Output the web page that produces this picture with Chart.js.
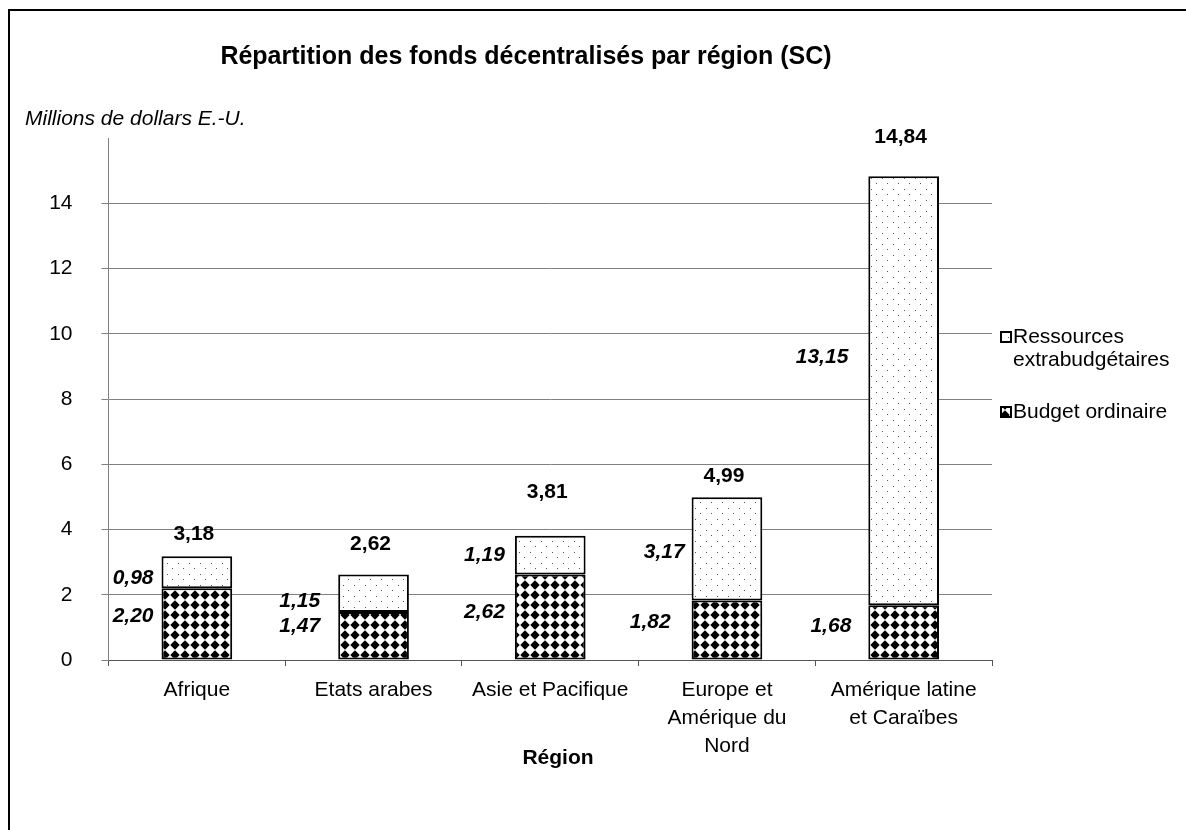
<!DOCTYPE html>
<html>
<head>
<meta charset="utf-8">
<script src="https://cdn.jsdelivr.net/npm/chart.js@4"></script>
<style>
  body { margin: 0; background: #fff; overflow: hidden; }
  #wrap { width: 1186px; height: 830px; }
</style>
</head>
<body>
<div id="wrap"><canvas id="fondsBar" width="1186" height="830"></canvas></div>
<script>
const regions = ['Afrique', 'Etats arabes', 'Asie et Pacifique', ['Europe et', 'Amérique du', 'Nord'], ['Amérique latine', 'et Caraïbes']]
const budgetOrdinaire = [2.20, 1.47, 2.62, 1.82, 1.68]
const extrabudgetaires = [0.98, 1.15, 1.19, 3.17, 13.15]
const totals = [3.18, 2.62, 3.81, 4.99, 14.84]
const yTicks = [0, 2, 4, 6, 8, 10, 12, 14]

const FONT = "'Liberation Sans', Arial, sans-serif"

// motifs de remplissage (diamants noirs / points gris)
function diamondPattern() {
    const c = document.createElement('canvas')
    c.width = 10; c.height = 10
    const g = c.getContext('2d')
    g.fillStyle = '#fff'
    g.fillRect(0, 0, 10, 10)
    g.fillStyle = '#000'
    g.beginPath()
    g.moveTo(5, 0.3); g.lineTo(9.7, 5); g.lineTo(5, 9.7); g.lineTo(0.3, 5)
    g.closePath()
    g.fill()
    return g.createPattern(c, 'repeat')
}
function dotPattern() {
    const c = document.createElement('canvas')
    c.width = 11; c.height = 11
    const g = c.getContext('2d')
    g.fillStyle = '#fff'
    g.fillRect(0, 0, 11, 11)
    g.fillStyle = '#555'
    g.fillRect(2, 2, 1, 1)
    g.fillRect(7, 7, 1, 1)
    return g.createPattern(c, 'repeat')
}
const fmt = v => v.toFixed(2).replace('.', ',')

// les étiquettes du graphique d'origine ont été déplacées à la main
const labelNudge = {
    totalAbove: [22, 30, 43, 21, 39],
    extraDy: [6, 8, 0, 3, -33],
    budgetDy: [-8, -10, -5, -8, -6],
    extraGap: [8, 18, 10, 7, 20],
    budgetGap: [8, 18, 10, 21, 17]
}

const decorPlugin = {
    id: 'decor',
    beforeDraw(chart) {
        const g = chart.ctx
        g.save()
        g.fillStyle = '#fff'
        g.fillRect(0, 0, chart.width, chart.height)
        g.strokeStyle = '#000'
        g.lineWidth = 2
        g.strokeRect(9, 10, 1300, 1000)
        g.restore()
    },
    afterDraw(chart) {
        const g = chart.ctx
        g.save()
        g.fillStyle = '#000'
        g.textBaseline = 'middle'
        // titre
        g.font = 'bold 25px ' + FONT
        g.textAlign = 'center'
        g.fillText('Répartition des fonds décentralisés par région (SC)', 526, 57)
        // unité
        g.font = 'italic 21px ' + FONT
        g.textAlign = 'left'
        g.fillText('Millions de dollars E.-U.', 25, 119)
        // titre axe x
        g.font = 'bold 21px ' + FONT
        g.textAlign = 'center'
        g.fillText('Région', 558, 758)

        // étiquettes de valeurs
        const metaB = chart.getDatasetMeta(0)
        const metaE = chart.getDatasetMeta(1)
        g.font = 'bold 21px ' + FONT
        metaE.data.forEach((bar, i) => {
            g.textAlign = 'center'
            g.fillText(fmt(totals[i]), bar.x - 3, bar.y - labelNudge.totalAbove[i])
        })
        g.font = 'bold italic 21px ' + FONT
        g.textAlign = 'right'
        metaB.data.forEach((bar, i) => {
            const left = bar.x - bar.width / 2
            g.fillText(fmt(budgetOrdinaire[i]), left - labelNudge.budgetGap[i], (bar.y + bar.base) / 2 + labelNudge.budgetDy[i])
        })
        metaE.data.forEach((bar, i) => {
            const left = bar.x - bar.width / 2
            g.fillText(fmt(extrabudgetaires[i]), left - labelNudge.extraGap[i], (bar.y + bar.base) / 2 + labelNudge.extraDy[i])
        })

        // légende
        const items = [
            { lines: ['Ressources', 'extrabudgétaires'], fill: chart.data.datasets[1].backgroundColor, y: 337 },
            { lines: ['Budget ordinaire'], fill: chart.data.datasets[0].backgroundColor, y: 412 }
        ]
        g.font = '21px ' + FONT
        g.textAlign = 'left'
        items.forEach(it => {
            g.fillStyle = it.fill
            g.fillRect(1001, it.y - 5, 10, 10)
            g.strokeStyle = '#000'
            g.lineWidth = 2
            g.strokeRect(1001, it.y - 5, 10, 10)
            g.fillStyle = '#000'
            it.lines.forEach((t, k) => g.fillText(t, 1013, it.y + k * 23))
        })
        g.restore()
    }
}

const ctx = document.getElementById('fondsBar').getContext('2d')
const chart = new Chart(ctx, {
    type: 'bar',
    data: {
        labels: regions,
        datasets: [{
            label: 'Budget ordinaire',
            data: budgetOrdinaire,
            backgroundColor: diamondPattern(),
            borderColor: '#000',
            borderWidth: 2,
            borderSkipped: false
        }, {
            label: 'Ressources extrabudgétaires',
            data: extrabudgetaires,
            backgroundColor: dotPattern(),
            borderColor: '#000',
            borderWidth: 2,
            borderSkipped: false
        }]
    },
    options: {
        responsive: false,
        animation: false,
        events: [],
        layout: { padding: { top: 138, right: 194, left: 0, bottom: 0 } },
        datasets: { bar: { barPercentage: 0.4, categoryPercentage: 1 } },
        plugins: {
            legend: { display: false },
            title: { display: false },
            tooltip: { enabled: false }
        },
        scales: {
            x: {
                stacked: true,
                afterFit: s => { s.height = 170 },
                grid: { offset: true, drawOnChartArea: false, tickLength: 6, color: '#555' },
                border: { color: '#555' },
                ticks: { color: '#000', padding: 10, maxRotation: 0, autoSkip: false,
                          font: { family: FONT, size: 21, lineHeight: 1.33 } }
            },
            y: {
                stacked: true,
                min: 0,
                max: 16,
                afterFit: s => { s.width = 108.5 },
                grid: {
                    tickLength: 7,
                    color: c => (c.tick && c.tick.value === 16) ? 'rgba(0,0,0,0)' : '#808080'
                },
                border: { color: '#808080' },
                ticks: {
                    stepSize: 2,
                    padding: 29,
                    color: '#000',
                    font: { family: FONT, size: 21 },
                    callback: v => yTicks.includes(v) ? String(v) : ''
                }
            }
        }
    },
    plugins: [decorPlugin]
})
</script>
</body>
</html>
